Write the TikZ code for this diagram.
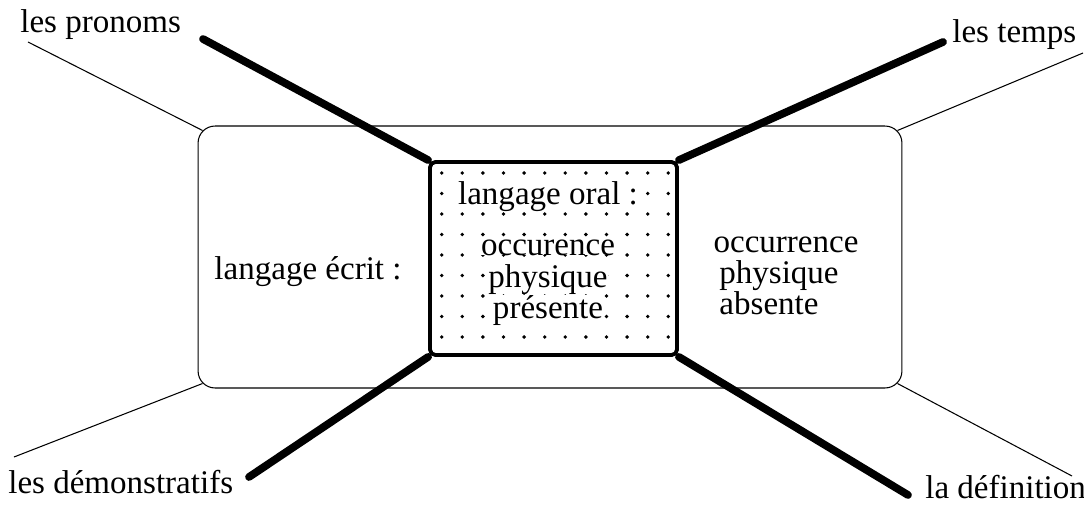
\documentclass[tikz,border=0pt]{standalone}
\usepackage{fontspec}
\setmainfont{Liberation Serif}
\usetikzlibrary{calc}

\begin{document}
\begin{tikzpicture}[x=0.02cm, y=-0.02cm,
        mot/.style={font=\fontsize{18.8}{17}\selectfont, inner sep=0pt},
        trait/.style={line width=4.4pt, line cap=round},
        fil/.style={line width=0.6pt}]
    \useasboundingbox (0,0) rectangle (1084,517);

    % grand cadre : langage ecrit
    \node[draw, fil, rounded corners=0.34cm, minimum width=14.08cm, minimum height=5.24cm] (ecrit) at (550,257) {};
    \node[mot, anchor=base] (ecr) at (308,279) {langage écrit :};

    % cadre central pointille : langage oral
    \node[draw, line width=2.2pt, rounded corners=3pt, minimum width=4.94cm, minimum height=3.86cm] (oral) at (553.5,258.5) {};
    \foreach \i in {0,...,11}
        \foreach \j in {0,...,8}
            \fill (441.7+20.6*\i, 173+20.5*\j) circle (1.1pt);
    \node[mot, fill=white, anchor=base] (o1) at (548,204) {langage oral :};
    \node[mot, fill=white, anchor=base] (o2) at (548,255) {occurence};
    \node[mot, fill=white, anchor=base] (o3) at (548,287) {physique};
    \node[mot, fill=white, anchor=base] (o4) at (548,318) {présente};

    \node[mot, anchor=base] (r1) at (786,252) {occurrence};
    \node[mot, anchor=base] (r2) at (779,283) {physique};
    \node[mot, anchor=base] (r3) at (769,314) {absente};

    % etiquettes des coins
    \node[mot, anchor=base west] (pronoms) at (20,33) {les pronoms};
    \node[mot, anchor=base west] (temps) at (952,43) {les temps};
    \node[mot, anchor=base west] (demo) at (8,493) {les démonstratifs};
    \node[mot, anchor=base west] (defi) at (925,498) {la définition};

    \coordinate (tA) at (203,39);
    \coordinate (tB) at (943,42);
    \coordinate (tC) at (249,477);
    \coordinate (tD) at (908,495);
    \coordinate (fA) at (28,42);
    \coordinate (fB) at (1083,53);
    \coordinate (fC) at (14,457);
    \coordinate (fD) at (1072,476);

    % traits epais depuis le cadre central
    \draw[trait] (oral.north west) -- (tA);
    \draw[trait] (oral.north east) -- (tB);
    \draw[trait] (oral.south west) -- (tC);
    \draw[trait] (oral.south east) -- (tD);

    % traits fins depuis le grand cadre
    \draw[fil] ($(ecrit.north west)+(5,5)$) -- (fA);
    \draw[fil] ($(ecrit.north east)+(-5,5)$) -- (fB);
    \draw[fil] ($(ecrit.south west)+(5,-5)$) -- (fC);
    \draw[fil] ($(ecrit.south east)+(-5,-5)$) -- (fD);
\end{tikzpicture}
\end{document}
